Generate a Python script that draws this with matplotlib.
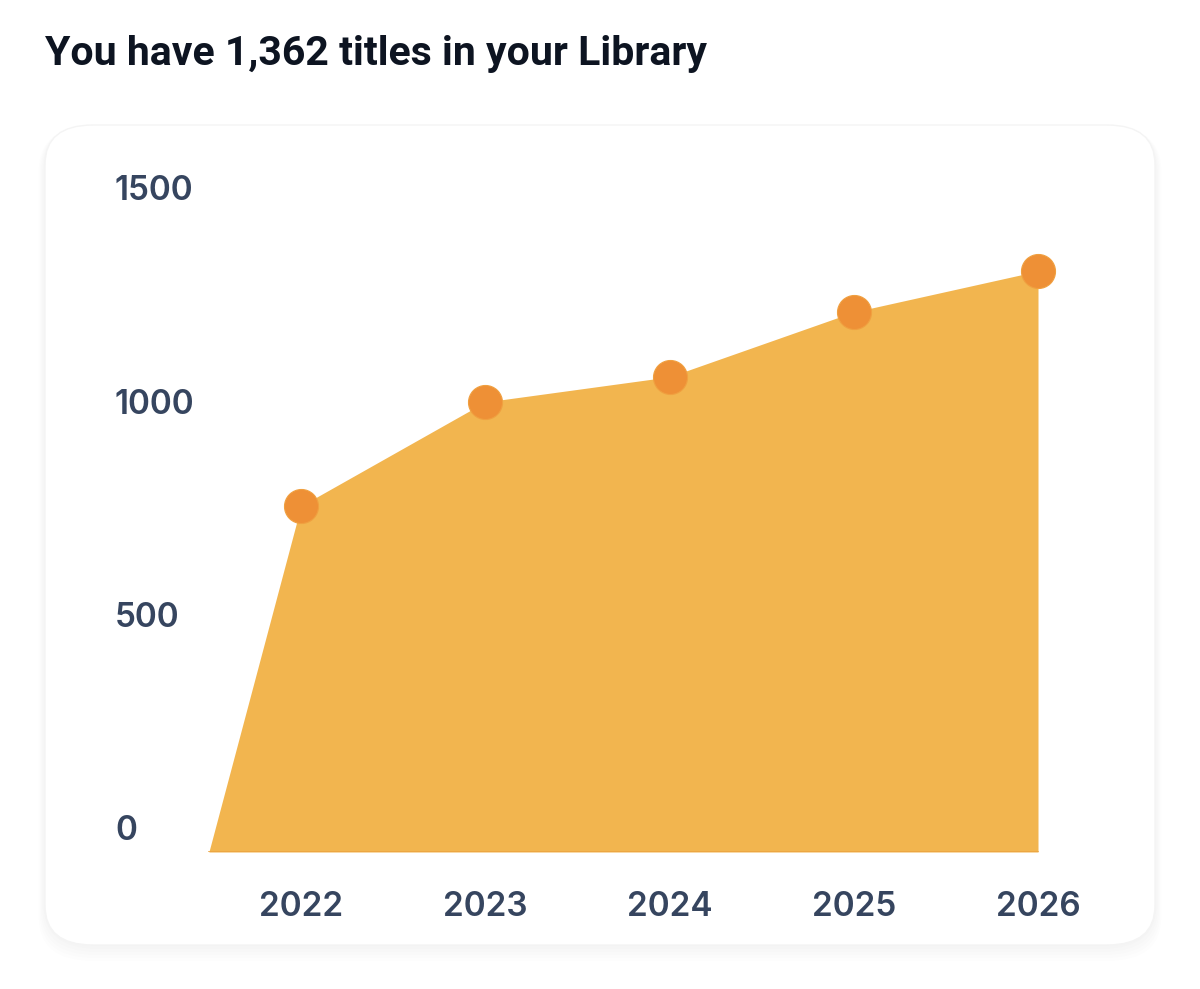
import matplotlib.pyplot as plt
from matplotlib.patches import FancyBboxPatch

# data
years = [2022, 2023, 2024, 2025, 2026]
titles = [769, 1000, 1056, 1200, 1291]
start_year = 2021.5   # the area starts from zero half a step before 2022
y_ticks = [0, 500, 1000, 1500]
title = 'You have 1,362 titles in your Library'

W, H = 1200, 989
fill_col = '#F2B54F'
dot_col = '#EE9036'
label_col = '#36455F'


def px_box(left, top, right, bottom):
    # pixel box (from top-left) to figure fraction [l, b, w, h]
    return [left / W, 1 - bottom / H, (right - left) / W, (bottom - top) / H]


def main():
    fig = plt.figure(figsize=(12, 9.89), dpi=100)
    fig.patch.set_facecolor('white')

    # card with soft shadow, drawn behind the axes
    l, t, r, b = 45, 125, 1155, 945
    for i in range(6):
        g = 16 - i * 3
        sh = FancyBboxPatch(((l - g * 0.4) / W, 1 - (b + g) / H),
                            (r - l + g * 0.8) / W, (b - t + g * 0.9) / H,
                            boxstyle='round,pad=0,rounding_size=0.045',
                            transform=fig.transFigure, facecolor='black',
                            edgecolor='none', alpha=0.009, zorder=-3)
        fig.patches.append(sh)
    card = FancyBboxPatch((l / W, 1 - b / H), (r - l) / W, (b - t) / H,
                          boxstyle='round,pad=0,rounding_size=0.04',
                          transform=fig.transFigure, facecolor='white',
                          edgecolor='#F4F4F4', linewidth=1, zorder=-2)
    fig.patches.append(card)

    fig.text(45 / W, 1 - 54 / H, title, fontsize=29.5, fontweight='bold',
             family=['Roboto', 'DejaVu Sans'],
             color='#0D1421', va='center', ha='left')

    ax_l, ax_t, ax_r, ax_b = 150, 150, 1100, 852
    ax = fig.add_axes(px_box(ax_l, ax_t, ax_r, ax_b))
    ax.patch.set_alpha(0)
    px_per_year = (1038 - 301) / 4
    ax.set_xlim(2022 - (301 - ax_l) / px_per_year, 2026 + (ax_r - 1038) / px_per_year)
    ax.set_ylim(0, (ax_b - ax_t) / 0.45)

    xs = [start_year] + years
    ys = [0] + titles
    ax.fill_between(xs, 0, ys, color=fill_col, linewidth=0, zorder=2)
    ax.plot([start_year, years[-1]], [0, 0], color='#EBA440', lw=1.2, zorder=2)
    ax.plot(years, titles, 'o', color=dot_col, markersize=24.5,
            markeredgecolor='#F0A040', markeredgewidth=0.8, zorder=3)

    ax.set_xticks(years)
    ax.set_xticklabels([str(y) for y in years], fontsize=24,
                       family=['Inter', 'DejaVu Sans'], fontweight='semibold',
                       color=label_col)
    ax.tick_params(axis='x', length=0, pad=28)
    ax.set_yticks([])
    for s in ax.spines.values():
        s.set_visible(False)

    # value labels on the left sit on their own slightly compressed scale
    ay = fig.add_axes(px_box(ax_l, ax_t, ax_r, ax_b))
    ay.patch.set_alpha(0)
    per = 640 / 1500
    ay.set_ylim(-(ax_b - 828) / per, (828 - ax_t) / per)
    ay.set_xticks([])
    ay.set_yticks(y_ticks)
    ay.set_yticklabels([str(v) for v in y_ticks], fontsize=24,
                       family=['Inter', 'DejaVu Sans'], fontweight='semibold',
                       color=label_col, ha='left')
    ay.tick_params(axis='y', length=0, pad=(ax_l - 115) * 0.72)
    for s in ay.spines.values():
        s.set_visible(False)

    fig.savefig('out.png', dpi=100, facecolor='white')


if __name__ == '__main__':
    main()
